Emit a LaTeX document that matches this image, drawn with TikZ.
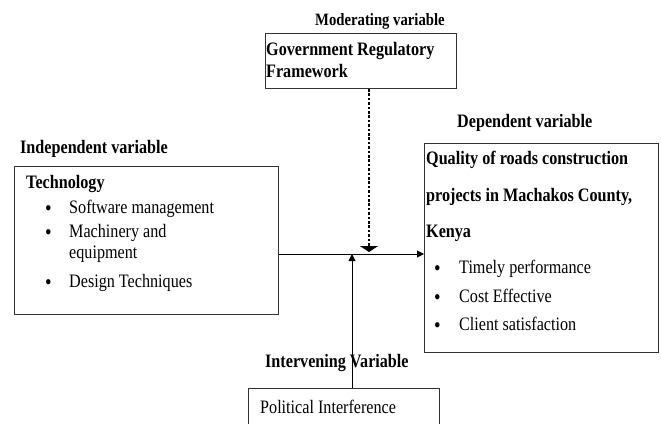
\documentclass[tikz,border=0pt]{standalone}
\usepackage{fontspec}
\setmainfont{Liberation Serif}[FakeStretch=0.85]
\usetikzlibrary{arrows.meta, positioning}

\begin{document}
\begin{tikzpicture}[
  x=1pt, y=-1pt,
  box/.style={draw=black!80, line width=0.9pt, inner sep=0pt, anchor=north west},
  heading/.style={font=\fontsize{19}{22}\selectfont\bfseries, anchor=base west, inner sep=0pt},
  item/.style={font=\fontsize{19}{22}\selectfont, anchor=base west, inner sep=0pt},
  dot/.style={font=\fontsize{22}{22}\selectfont, anchor=base west, inner sep=0pt, yshift=-2.5pt},
  arrow/.style={-{Triangle[length=7pt, width=7pt]}, line width=1pt},
  dotarrow/.style={-{Triangle[length=6pt, width=18pt]}, line width=2.6pt, dash pattern=on 2.6pt off 1.8pt}
]
\useasboundingbox (0,0) rectangle (661,423);

% === Moderating variable ===
\node[heading, font=\fontsize{17.3}{20}\selectfont\bfseries] (modlabel) at (315,25) {Moderating variable};
\node[box, minimum width=191pt, minimum height=55pt] (mod) at (265,33) {};
\node[heading] (mod1) at (266,55) {Government Regulatory};
\node[heading] (mod2) at (266,77) {Framework};

% === Independent variable ===
\node[heading] (techlabel) at (20,153) {Independent variable};
\node[box, minimum width=264pt, minimum height=148pt] (tech) at (14,166) {};
\node[heading] (techtitle) at (26,188) {Technology};
\node[dot] (tb1) at (45,213) {\textbullet};
\node[item] (t1) at (69,213) {Software management};
\node[dot] (tb2) at (45,237) {\textbullet};
\node[item] (t2) at (69,237) {Machinery and};
\node[item] (t2b) at (69,258) {equipment};
\node[dot] (tb3) at (45,287) {\textbullet};
\node[item] (t3) at (69,287) {Design Techniques};

% === Dependent variable ===
\node[heading] (deplabel) at (457,127) {Dependent variable};
\node[box, minimum width=234pt, minimum height=209pt] (dep) at (424,143) {};
\node[heading] (dep1) at (426,164) {Quality of roads construction};
\node[heading] (dep2) at (426,201) {projects in Machakos County,};
\node[heading] (dep3) at (426,237) {Kenya};
\node[dot] (db1) at (434,273) {\textbullet};
\node[item] (d1) at (459,273) {Timely performance};
\node[dot] (db2) at (434,302) {\textbullet};
\node[item] (d2) at (459,302) {Cost Effective};
\node[dot] (db3) at (434,330) {\textbullet};
\node[item] (d3) at (459,330) {Client satisfaction};

% === Intervening variable ===
\node[box, minimum width=191pt, minimum height=50pt] (pol) at (248,388) {};
\node[item] (pol1) at (260,413) {Political Interference};
\node[heading] (pollabel) at (265,367) {Intervening Variable};

% connectors
\coordinate (join) at (352,254);
\coordinate (modtip) at (369,252);
\draw[arrow] (tech.east |- join) -- (dep.west |- join);
\draw[arrow] (join |- pol.north) -- (join);
\draw[dotarrow] (modtip |- mod.south) -- (modtip);

\end{tikzpicture}
\end{document}
